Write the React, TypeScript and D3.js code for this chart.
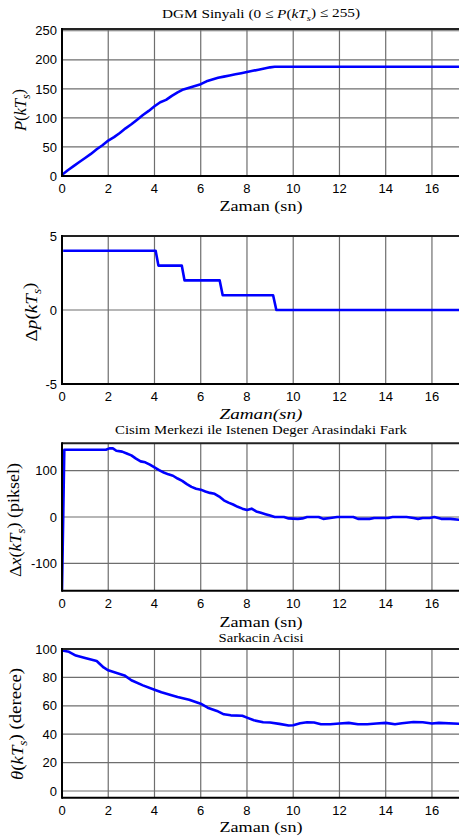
import React from "react";
import * as d3 from "d3";

// ---------- DATA ----------
const xTicks = [0, 2, 4, 6, 8, 10, 12, 14, 16];

const pTime = [0, 0.25, 0.5, 0.75, 1, 1.25, 1.5, 1.75, 2, 2.25, 2.5, 2.75, 3, 3.25, 3.5, 3.75, 4, 4.25, 4.5, 4.75, 5, 5.25, 5.5, 5.75, 6, 6.25, 6.5, 6.75, 7, 7.25, 7.5, 7.75, 8, 8.25, 8.5, 8.75, 9, 9.2, 17.2];
const pValue = [2, 10, 17, 24, 31, 38, 46, 53, 61, 67, 74, 82, 89, 97, 105, 112, 120, 127, 131, 138, 144, 149, 152, 155, 158, 163, 166, 169, 171, 173, 175, 177, 179, 181, 183, 185, 187, 188, 188];
const pTicks = [0, 50, 100, 150, 200, 250];

const dpTime = [0.05, 4.05, 4.17, 5.18, 5.3, 6.82, 6.95, 9.13, 9.27, 17.2];
const dpValue = [4, 4, 3, 3, 2, 2, 1, 1, 0, 0];
const dpTicks = [-5, 0, 5];

const dxTime = [0, 0.1, 1.9, 2.05, 2.2, 2.35, 2.6, 2.8, 3.0, 3.2, 3.4, 3.6, 3.8, 4.0, 4.2, 4.4, 4.6, 4.8, 5.0, 5.2, 5.4, 5.6, 5.8, 6.0, 6.2, 6.4, 6.6, 6.8, 7.0, 7.2, 7.4, 7.6, 7.8, 8.0, 8.2, 8.4, 8.6, 8.8, 9.0, 9.2, 9.6, 9.8, 10.2, 10.4, 10.6, 11.1, 11.3, 11.6, 11.9, 12.6, 12.8, 13.3, 13.5, 14.1, 14.3, 14.9, 15.2, 15.4, 15.6, 15.9, 16.1, 16.4, 16.8, 17.2];
const dxValue = [-159, 145, 145, 148, 148, 143, 141, 137, 133, 126, 120, 118, 113, 107, 101, 96, 92, 89, 83, 78, 71, 65, 61, 59, 55, 52, 50, 44, 36, 31, 27, 22, 18, 15, 18, 12, 9, 6, 3, 0, 0, -3, -4, -3, 0, 0, -4, -2, 0, 0, -4, -4, -2, -2, 0, 0, -2, -4, -2, -2, 0, -4, -4, -6];
const dxTicks = [-100, 0, 100];

const thTime = [0, 0.3, 0.6, 1, 1.5, 1.8, 2, 2.3, 2.7, 3, 3.5, 4, 4.3, 4.7, 5, 5.5, 6, 6.3, 6.7, 7, 7.3, 7.8, 8, 8.3, 8.7, 9, 9.4, 9.8, 10, 10.3, 10.6, 10.9, 11.2, 11.6, 12, 12.4, 12.8, 13.2, 13.6, 14, 14.4, 14.7, 15.2, 15.6, 16, 16.3, 17.2];
const thValue = [99, 98, 95.4, 93.6, 91.5, 87, 85, 83.5, 81.4, 78, 74.4, 71.3, 69.5, 67.6, 66.2, 64.3, 61.5, 58.7, 56.4, 54, 53.3, 53, 51.7, 49.8, 48.4, 48.2, 47.3, 46.1, 46.3, 47.7, 48.4, 48.2, 47, 47, 47.5, 48, 47, 47, 47.5, 48, 47, 47.7, 48.6, 48.4, 47.5, 48, 47.3];
const thTicks = [0, 20, 40, 60, 80, 100];

// ---------- LAYOUT ----------
const W = 459;
const H = 838;
const LEFT = 62;
const xScale = d3.scaleLinear().domain([0, 17.17]).range([LEFT, W]);

const SANS = "'Liberation Sans', Arial, sans-serif";
const SERIF = "'Liberation Serif', 'Times New Roman', serif";

type PanelProps = {
  top: number;
  bottom: number;
  domain: [number, number];
  yTicks: number[];
  xs: number[];
  ys: number[];
};

function Panel({ top, bottom, domain, yTicks, xs, ys }: PanelProps) {
  const y = d3.scaleLinear().domain(domain).range([bottom, top]);
  const line = d3
    .line<number>()
    .x((_, i) => xScale(xs[i]))
    .y((_, i) => y(ys[i]));
  const id = `clip${Math.round(top)}`;
  return (
    <g>
      <defs>
        <clipPath id={id}>
          <rect x={LEFT} y={top} width={W - LEFT} height={bottom - top} />
        </clipPath>
      </defs>
      {xTicks.filter((t) => t > 0).map((t) => (
        <line key={"vx" + t} x1={xScale(t)} x2={xScale(t)} y1={top} y2={bottom} stroke="#6e6e6e" strokeWidth={1.2} />
      ))}
      {yTicks.map((t) => (
        <line key={"hy" + t} x1={LEFT} x2={W} y1={y(t)} y2={y(t)} stroke="#6e6e6e" strokeWidth={1.2} />
      ))}
      <path d={line(ys) || ""} fill="none" stroke="#0000ff" strokeWidth={2.6} strokeLinejoin="round" clipPath={`url(#${id})`} />
      <line x1={LEFT} x2={W} y1={top} y2={top} stroke="#222" strokeWidth={2} />
      <line x1={LEFT} x2={W} y1={bottom} y2={bottom} stroke="#000" strokeWidth={2} />
      <line x1={LEFT} x2={LEFT} y1={top - 1} y2={bottom + 1} stroke="#000" strokeWidth={2} />
      {yTicks.map((t) => (
        <text key={"yl" + t} x={LEFT - 5} y={y(t)} dy="0.36em" textAnchor="end" fontFamily={SANS} fontSize={13} fill="#000">
          {t}
        </text>
      ))}
      {xTicks.map((t) => (
        <text key={"xl" + t} x={xScale(t)} y={bottom + 17} textAnchor="middle" fontFamily={SANS} fontSize={13} fill="#000">
          {t}
        </text>
      ))}
    </g>
  );
}

function YLabel({ x, cy, len, children }: { x: number; cy: number; len: number; children: React.ReactNode }) {
  return (
    <text
      transform={`translate(${x},${cy}) rotate(-90)`}
      textAnchor="middle"
      fontFamily={SERIF}
      fontSize={17}
      textLength={len}
      lengthAdjust="spacingAndGlyphs"
      fill="#000"
    >
      {children}
    </text>
  );
}

function XLabel({ y, italic, text, size = 15.5 }: { y: number; italic?: boolean; text: string; size?: number }) {
  return (
    <text x={261} y={y} textAnchor="middle" fontFamily={SERIF} fontSize={size} fontStyle={italic ? "italic" : "normal"} textLength={83} lengthAdjust="spacingAndGlyphs" fill="#000">
      {text}
    </text>
  );
}

export default function App() {
  return (
    <svg width={W} height={H} style={{ position: "absolute", left: 0, top: 0, background: "#fff" }}>
      <rect width={W} height={H} fill="#fff" />

      {/* Panel 1 */}
      <text x={261} y={18} textAnchor="middle" fontFamily={SERIF} fontSize={13} textLength={198} lengthAdjust="spacingAndGlyphs" fill="#000">
        DGM Sinyali (0 ≤ <tspan fontStyle="italic">P</tspan>(<tspan fontStyle="italic">kT</tspan>
        <tspan fontSize="70%" fontStyle="italic" dy="0.3em">s</tspan>
        <tspan dy="-0.3em">) ≤ 255)</tspan>
      </text>
      <Panel top={29} bottom={176} domain={[0, 253]} yTicks={pTicks} xs={pTime} ys={pValue} />
      <XLabel y={211} text="Zaman (sn)" />
      <YLabel x={26} cy={110} len={42}>
        <tspan fontStyle="italic">P</tspan>(<tspan fontStyle="italic">kT</tspan>
        <tspan fontSize="70%" fontStyle="italic" dy="0.3em">s</tspan>
        <tspan dy="-0.3em">)</tspan>
      </YLabel>

      {/* Panel 2 */}
      <Panel top={236} bottom={384} domain={[-5, 5]} yTicks={dpTicks} xs={dpTime} ys={dpValue} />
      <XLabel y={419} italic size={14.5} text="Zaman(sn)" />
      <YLabel x={37} cy={312} len={59}>
        Δ<tspan fontStyle="italic">p</tspan>(<tspan fontStyle="italic">kT</tspan>
        <tspan fontSize="70%" fontStyle="italic" dy="0.3em">s</tspan>
        <tspan dy="-0.3em">)</tspan>
      </YLabel>

      {/* Panel 3 */}
      <text x={261} y={433.5} textAnchor="middle" fontFamily={SERIF} fontSize={12} textLength={292} lengthAdjust="spacingAndGlyphs" fill="#000">
        Cisim Merkezi ile Istenen Deger Arasindaki Fark
      </text>
      <Panel top={443.3} bottom={590.7} domain={[-159, 159]} yTicks={dxTicks} xs={dxTime} ys={dxValue} />
      <XLabel y={627} text="Zaman (sn)" />
      <YLabel x={21} cy={520} len={114}>
        Δ<tspan fontStyle="italic">x</tspan>(<tspan fontStyle="italic">kT</tspan>
        <tspan fontSize="70%" fontStyle="italic" dy="0.3em">s</tspan>
        <tspan dy="-0.3em">)  (piksel)</tspan>
      </YLabel>

      {/* Panel 4 */}
      <text x={261} y={642} textAnchor="middle" fontFamily={SERIF} fontSize={12.5} textLength={85} lengthAdjust="spacingAndGlyphs" fill="#000">
        Sarkacin Acisi
      </text>
      <Panel top={649} bottom={797.7} domain={[-4.7, 100]} yTicks={thTicks} xs={thTime} ys={thValue} />
      <XLabel y={832} text="Zaman (sn)" />
      <YLabel x={23} cy={724} len={112}>
        <tspan fontStyle="italic">θ</tspan>(<tspan fontStyle="italic">kT</tspan>
        <tspan fontSize="70%" fontStyle="italic" dy="0.3em">s</tspan>
        <tspan dy="-0.3em">)  (derece)</tspan>
      </YLabel>
    </svg>
  );
}
